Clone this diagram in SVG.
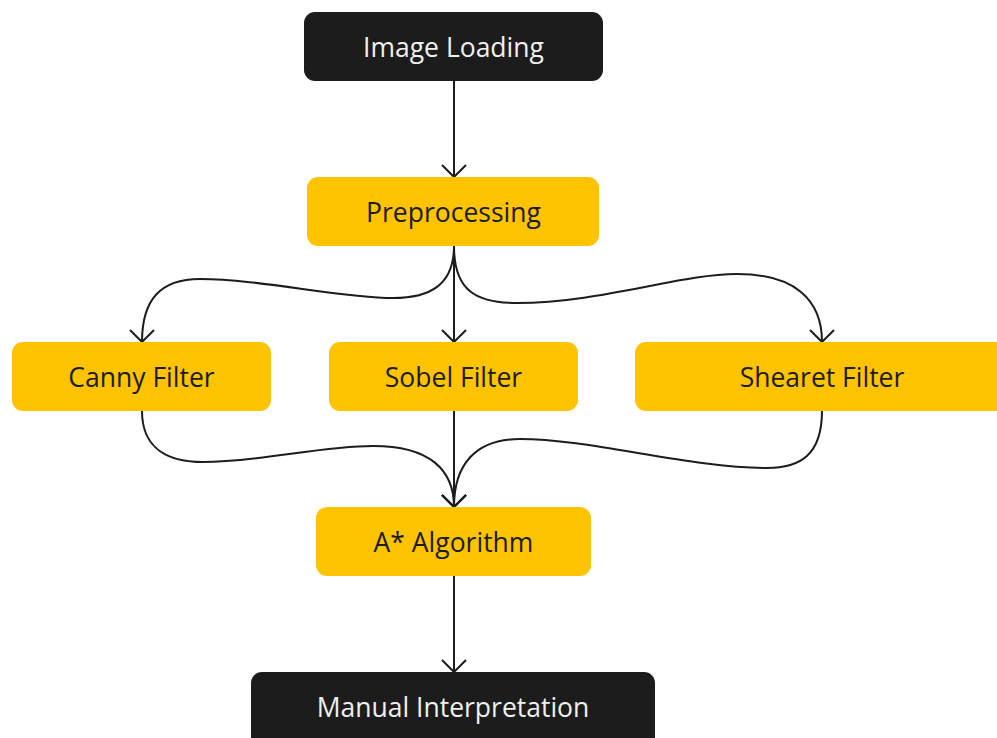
<svg xmlns="http://www.w3.org/2000/svg" width="997" height="738" viewBox="0 0 997 738">
<defs>
<style>
.dark rect{fill:#1c1c1c}
.light rect{fill:#ffc300}
text{font-family:"Open Sans","Noto Sans",sans-serif;font-size:26.5px;text-anchor:middle;dominant-baseline:central}
.dark text{fill:#f0f0f0}
.light text{fill:#1c1c1c}
.conn path{fill:none;stroke:#1c1c1c;stroke-width:2}
</style>
<marker id="arr" viewBox="0 0 14 28" refX="13" refY="14" markerWidth="14" markerHeight="28" markerUnits="userSpaceOnUse" orient="auto">
<path d="M1,2 L13,14 L1,26" fill="none" stroke="#1c1c1c" stroke-width="2"/>
</marker>
</defs>
<rect width="997" height="738" fill="#ffffff"/>
<g class="conn">
<path d="M454,81 L454,177" marker-end="url(#arr)"/>
<path d="M454,246 L454,342" marker-end="url(#arr)"/>
<path d="M454,246 C454,285 430,298 393,298 C340,298 260,279 200,279 C160,279 142,300 142,342" marker-end="url(#arr)"/>
<path d="M454,246 C454,290 475,303 517,303 C600,303 680,274 737,274 C795,274 822,300 822,342" marker-end="url(#arr)"/>
<path d="M454,411 L454,507" marker-end="url(#arr)"/>
<path d="M142,411 C142,450 170,462 203,462 C260,462 320,446 373,446 C430,446 454,470 454,507" marker-end="url(#arr)"/>
<path d="M822,411 C822,455 800,468 767,468 C690,468 590,439 520,439 C475,439 454,465 454,507" marker-end="url(#arr)"/>
<path d="M454,576 L454,672" marker-end="url(#arr)"/>
</g>
<g id="image-loading" class="dark"><rect x="304" y="12" width="299" height="69" rx="11"/><text x="453.5" y="47">Image Loading</text></g>
<g id="preprocessing" class="light"><rect x="307" y="177" width="292" height="69" rx="11"/><text x="453.5" y="212">Preprocessing</text></g>
<g id="canny" class="light"><rect x="12" y="342" width="259" height="69" rx="11"/><text x="141.5" y="377">Canny Filter</text></g>
<g id="sobel" class="light"><rect x="329" y="342" width="249" height="69" rx="11"/><text x="453.5" y="377">Sobel Filter</text></g>
<g id="shearet" class="light"><rect x="635" y="342" width="374" height="69" rx="11"/><text x="822" y="377">Shearet Filter</text></g>
<g id="astar" class="light"><rect x="316" y="507" width="275" height="69" rx="11"/><text x="453.5" y="542">A* Algorithm</text></g>
<g id="manual" class="dark"><rect x="251" y="672" width="404" height="80" rx="11"/><text x="453" y="707">Manual Interpretation</text></g>
</svg>
